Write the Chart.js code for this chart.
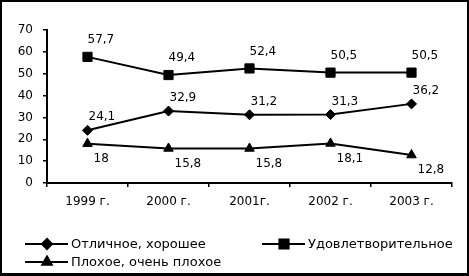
<!DOCTYPE html>
<html>
<head>
<meta charset="utf-8">
<script src="https://cdn.jsdelivr.net/npm/chart.js@4/dist/chart.umd.min.js"></script>
<style>
  html, body { margin: 0; padding: 0; background: #fff; }
  #wrap { position: relative; width: 469px; height: 276px; }
  #chart { position: absolute; left: 0; top: 0; }
  #frame {
    position: absolute; left: 0; top: 0; width: 469px; height: 276px;
    box-sizing: border-box; border: 2px solid #000; border-bottom-width: 3px;
    pointer-events: none;
  }
</style>
</head>
<body>
<div id="wrap">
  <canvas id="chart" width="469" height="276"></canvas>
  <div id="frame"></div>
</div>
<script>
const years = ['1999 г.', '2000 г.', '2001г.', '2002 г.', '2003 г.'];
const good = [24.1, 32.9, 31.2, 31.3, 36.2];
const fair = [57.7, 49.4, 52.4, 50.5, 50.5];
const bad = [18, 15.8, 15.8, 18.1, 12.8];

const FONT = '"DejaVu Sans", sans-serif';

// comma as decimal mark, like the source
const fmt = (v) => String(v).replace('.', ',');

// value labels next to each point; offsets per series
const valueLabels = {
  id: 'valueLabels',
  afterDatasetsDraw(chart) {
    const { ctx } = chart;
    ctx.save();
    ctx.font = `12px ${FONT}`;
    ctx.fillStyle = '#000';
    ctx.textAlign = 'left';
    ctx.textBaseline = 'middle';
    chart.data.datasets.forEach((ds, i) => {
      const [dx, dy] = ds.labelShift;
      chart.getDatasetMeta(i).data.forEach((pt, j) => {
        ctx.fillText(fmt(ds.data[j]), pt.x + dx, pt.y + dy);
      });
    });
    ctx.restore();
  },
};

// legend as in the source: two columns, line with marker in the middle
const sideLegend = {
  id: 'sideLegend',
  afterDraw(chart) {
    const { ctx } = chart;
    const slots = [
      { x: 25, y: 244 },
      { x: 262, y: 244 },
      { x: 25, y: 262 },
    ];
    ctx.save();
    ctx.font = `13px ${FONT}`;
    ctx.textBaseline = 'middle';
    ctx.fillStyle = '#000';
    chart.data.datasets.forEach((ds, i) => {
      const { x, y } = slots[i];
      ctx.strokeStyle = '#000';
      ctx.lineWidth = 2;
      ctx.beginPath();
      ctx.moveTo(x, y);
      ctx.lineTo(x + 43, y);
      ctx.stroke();
      Chart.helpers.drawPoint(ctx, {
        pointStyle: ds.pointStyle,
        radius: ds.pointRadius,
        borderWidth: 1,
        rotation: 0,
      }, x + 22, y);
      ctx.fillStyle = '#000';
      ctx.fill();
      ctx.fillText(ds.label, x + 46, y + 1);
    });
    ctx.restore();
  },
};

const lineSet = (label, data, style, radius, shift) => ({
  label,
  data,
  pointStyle: style,
  pointRadius: radius,
  pointHoverRadius: radius,
  borderColor: '#000',
  backgroundColor: '#000',
  pointBackgroundColor: '#000',
  pointBorderColor: '#000',
  pointBorderWidth: 1,
  borderWidth: 2,
  tension: 0,
  labelShift: shift,
});

new Chart(document.getElementById('chart'), {
  type: 'line',
  data: {
    labels: years,
    datasets: [
      lineSet('Отличное, хорошее', good, 'rectRot', 5, [1, -13]),
      lineSet('Удовлетворительное', fair, 'rect', 6.5, [0, -17]),
      lineSet('Плохое, очень плохое', bad, 'triangle', 5.5, [6, 15]),
    ],
  },
  options: {
    responsive: false,
    animation: false,
    devicePixelRatio: 1,
    layout: { padding: { left: 0, top: 30, right: 17, bottom: 0 } },
    plugins: {
      legend: { display: false },
      tooltip: { enabled: false },
    },
    scales: {
      x: {
        offset: true,
        afterFit: (s) => { s.height = 93; },
        grid: {
          offset: true, drawOnChartArea: false, color: '#000', tickLength: 4, lineWidth: 1.5,
        },
        border: { color: '#000', width: 2 },
        ticks: {
          color: '#000', font: { family: FONT, size: 12 }, padding: 8, maxRotation: 0,
        },
      },
      y: {
        min: 0,
        max: 70,
        afterFit: (s) => { s.width = 47; },
        grid: {
          drawOnChartArea: false, color: '#000', tickLength: 4, lineWidth: 1.5,
        },
        border: { color: '#000', width: 2 },
        ticks: {
          stepSize: 10, color: '#000', font: { family: FONT, size: 12 }, padding: 10,
        },
      },
    },
  },
  plugins: [valueLabels, sideLegend],
});
</script>
</body>
</html>
